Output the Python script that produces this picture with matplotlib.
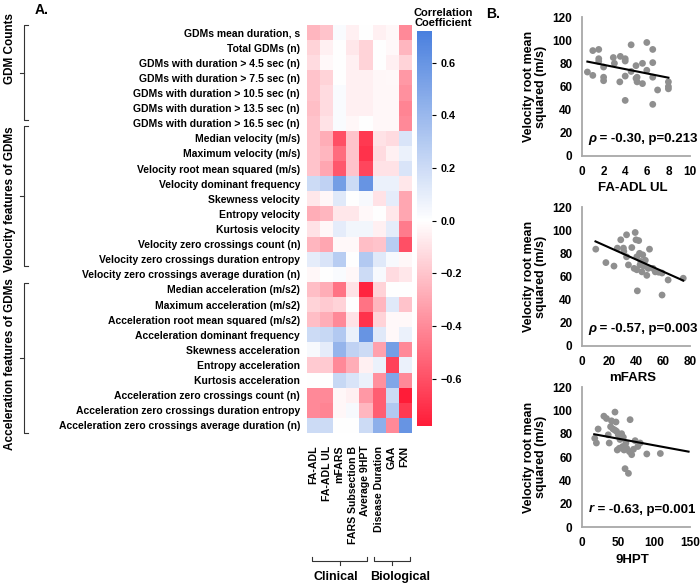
import numpy as np
import matplotlib
matplotlib.use('Agg')
import matplotlib.pyplot as plt
from matplotlib.colors import LinearSegmentedColormap, Normalize

plt.rcParams['font.family'] = ['Liberation Sans', 'DejaVu Sans']
plt.rcParams['font.weight'] = 'bold'

# ---------------- data ----------------
columns = ["FA-ADL", "FA-ADL UL", "mFARS", "FARS Subsection B", "Average 9HPT",
           "Disease Duration", "GAA", "FXN"]

gdm_rows = ["GDMs mean duration, s", "Total GDMs (n)",
            "GDMs with duration > 4.5 sec (n)", "GDMs with duration > 7.5 sec (n)",
            "GDMs with duration > 10.5 sec (n)", "GDMs with duration > 13.5 sec (n)",
            "GDMs with duration > 16.5 sec (n)"]
gdm_r = [
    [-0.25, -0.20, 0.02, -0.05, 0.00, -0.05, -0.03, -0.40],
    [-0.15, -0.05, 0.00, -0.08, -0.15, 0.00, -0.02, -0.25],
    [-0.12, -0.02, 0.00, -0.05, -0.15, 0.00, -0.05, -0.15],
    [-0.20, -0.15, 0.00, -0.05, -0.05, -0.03, -0.02, -0.35],
    [-0.20, -0.12, 0.02, -0.05, -0.05, -0.03, -0.03, -0.38],
    [-0.22, -0.12, 0.02, -0.05, -0.05, -0.03, -0.03, -0.42],
    [-0.20, -0.10, 0.02, -0.03, 0.00, -0.03, -0.03, -0.40],
]

vel_rows = ["Median velocity (m/s)", "Maximum velocity (m/s)",
            "Velocity root mean squared (m/s)", "Velocity dominant frequency",
            "Skewness velocity", "Entropy velocity", "Kurtosis velocity",
            "Velocity zero crossings count (n)",
            "Velocity zero crossings duration entropy",
            "Velocity zero crossings average duration (n)"]
vel_r = [
    [-0.20, -0.28, -0.60, -0.20, -0.68, -0.10, -0.12, 0.15],
    [-0.20, -0.25, -0.50, -0.20, -0.70, -0.12, -0.05, 0.08],
    [-0.20, -0.30, -0.57, -0.20, -0.63, -0.10, -0.10, 0.15],
    [0.20, 0.25, 0.55, 0.20, 0.60, 0.08, 0.08, -0.08],
    [-0.08, -0.03, 0.12, 0.00, 0.03, -0.10, 0.10, -0.30],
    [-0.28, -0.25, -0.08, -0.08, -0.02, 0.00, -0.08, -0.30],
    [-0.10, -0.03, 0.10, 0.05, 0.05, -0.05, 0.10, -0.45],
    [-0.25, -0.30, -0.02, -0.02, -0.22, -0.20, 0.28, -0.60],
    [0.10, 0.15, 0.28, 0.00, 0.30, 0.12, 0.03, -0.03],
    [-0.03, 0.00, 0.02, -0.03, 0.20, 0.03, -0.12, -0.08],
]

acc_rows = ["Median acceleration (m/s2)", "Maximum acceleration (m/s2)",
            "Acceleration root mean squared (m/s2)", "Acceleration dominant frequency",
            "Skewness acceleration", "Entropy acceleration", "Kurtosis acceleration",
            "Acceleration zero crossings count (n)",
            "Acceleration zero crossings duration entropy",
            "Acceleration zero crossings average duration (n)"]
acc_r = [
    [-0.22, -0.28, -0.48, -0.10, -0.75, -0.15, 0.00, 0.00],
    [-0.15, -0.18, -0.15, 0.00, -0.48, -0.25, 0.12, -0.20],
    [-0.22, -0.28, -0.40, -0.10, -0.70, -0.15, -0.02, -0.02],
    [0.20, 0.22, 0.30, 0.08, 0.60, 0.12, -0.02, 0.08],
    [0.03, 0.10, 0.42, 0.25, 0.20, -0.32, 0.55, -0.40],
    [-0.18, -0.18, -0.40, -0.28, -0.05, 0.08, -0.65, 0.08],
    [0.00, 0.00, 0.22, 0.15, 0.08, -0.38, 0.50, -0.40],
    [-0.40, -0.40, -0.03, -0.05, -0.35, -0.55, 0.20, -0.78],
    [-0.40, -0.42, -0.03, 0.03, -0.25, -0.55, 0.30, -0.68],
    [0.20, 0.20, 0.00, 0.00, 0.20, 0.45, -0.40, 0.60],
]

group_names = ["GDM Counts", "Velocity features of GDMs", "Acceleration features of GDMs"]
col_groups = ["Clinical", "Biological"]

cbar_ticks = [-0.6, -0.4, -0.2, 0.0, 0.2, 0.4, 0.6]
vmin, vmax = -0.78, 0.72

# scatter panels (points and trend-line end points)
p1_x = [0.5, 1.0, 1.0, 1.55, 1.55, 1.55, 2.0, 2.0, 2.0, 2.9, 3.0, 3.55, 3.5, 4.0, 4.0,
        4.0, 4.0, 4.55, 4.55, 5.0, 5.0, 5.1, 5.6, 5.6, 6.0, 6.0, 6.55, 6.55, 6.55, 6.55,
        7.0, 8.0, 8.0, 8.0, 5.1]
p1_y = [72.5, 69.6, 91, 92, 84, 81.7, 76.8, 68, 65, 85, 80, 86, 64, 84, 82,
        69, 48, 96, 73, 78, 67, 64, 80, 62.5, 98, 74, 92, 80.6, 68, 44.6,
        57, 64, 60, 58, 68]
p1_fit_x = [0.5, 8.0]
p1_fit_y = [81.5, 67.6]
p1_label = ("ρ", " = -0.30, p=0.213")

p2_x = [10.2, 17.7, 23.7, 26.2, 28.7, 30.7, 31, 33, 33, 34.4, 36.9, 38.6, 39.4, 40, 42,
        41, 40.6, 40.6, 42.6, 43.6, 44.4, 45, 45.6, 46.9, 48, 49, 50, 52.6, 54.3, 56.8,
        59.3, 59.3, 63.8, 75, 43]
p2_y = [83.6, 72, 69, 84.5, 91.7, 84.5, 81.6, 96, 77, 70, 85, 67, 98, 91.7, 91,
        47.6, 77, 65.8, 80, 73, 64, 78.7, 69, 74, 61, 67, 83.6, 67, 64, 63.7,
        63, 44, 57, 58.5, 70]
p2_fit_x = [10.0, 75.0]
p2_fit_y = [90.3, 56.5]
p2_label = ("ρ", " = -0.57, p=0.003")

p3_x = [17.7, 20, 22.4, 30.4, 34, 36.4, 37.8, 39.7, 41, 43, 45.8, 45.8, 47.2, 48, 49,
        50.4, 51.8, 52.8, 55, 56.5, 57.4, 58.4, 59.8, 61, 62, 64.5, 65.8, 66.8, 69, 71.5,
        73.8, 77.5, 80.8, 90, 108.8]
p3_y = [76, 72, 84, 95, 93, 79, 72, 86, 91, 84, 98.5, 83, 90, 82, 66,
        79, 67.5, 75, 80, 69, 77, 66, 50, 72, 67.5, 46, 64.6, 92, 62, 66.6,
        74, 69, 72, 62.6, 63]
p3_fit_x = [17.0, 148.0]
p3_fit_y = [79.5, 64.6]
p3_label = ("r", " = -0.63, p=0.001")

panels = [
    (p1_x, p1_y, p1_fit_x, p1_fit_y, p1_label, "FA-ADL UL", (0, 10), [0, 2, 4, 6, 8, 10]),
    (p2_x, p2_y, p2_fit_x, p2_fit_y, p2_label, "mFARS", (0, 80), [0, 20, 40, 60, 80]),
    (p3_x, p3_y, p3_fit_x, p3_fit_y, p3_label, "9HPT", (0, 150), [0, 50, 100, 150]),
]
y_ticks = [0, 20, 40, 60, 80, 100, 120]
y_label = "Velocity root mean\nsquared (m/s)"

# ---------------- figure ----------------
W, H = 700, 584
fig = plt.figure(figsize=(W / 100, H / 100), dpi=100)


def rect(x0, y0, x1, y1):
    return [x0 / W, 1 - y1 / H, (x1 - x0) / W, (y1 - y0) / H]


# colormap: red -> white (at 0) -> blue, truncated to data range
red = np.array([1.0, 0.11, 0.22])
white = np.array([1.0, 1.0, 1.0])
blue = np.array([0.23, 0.46, 0.86])
blue_top = white + (vmax / -vmin) * (blue - white)
zero_pos = -vmin / (vmax - vmin)
cmap = LinearSegmentedColormap.from_list(
    "rwb", [(0.0, red), (zero_pos, white), (1.0, blue_top)])
norm = Normalize(vmin=vmin, vmax=vmax)

rows = gdm_rows + vel_rows + acc_rows
M = np.array(gdm_r + vel_r + acc_r)

ax = fig.add_axes(rect(307, 25, 411, 433))
im = ax.imshow(M, cmap=cmap, norm=norm, aspect='auto', interpolation='nearest')
for s in ax.spines.values():
    s.set_visible(False)
ax.set_yticks(range(len(rows)))
ax.set_yticklabels(rows, fontsize=7.5, fontweight='bold')
ax.set_xticks(range(len(columns)))
ax.set_xticklabels(columns, rotation=90, fontsize=7.6, fontweight='bold')
ax.tick_params(axis='both', length=0)
ax.tick_params(axis='y', pad=5)
ax.tick_params(axis='x', pad=9)

cax = fig.add_axes(rect(417, 31, 432, 426))
cb = fig.colorbar(im, cax=cax)
cb.outline.set_visible(False)
cb.set_ticks(cbar_ticks)
cb.ax.tick_params(labelsize=7.8, length=3, width=0.8)
for t in cb.ax.get_yticklabels():
    t.set_fontweight('bold')

# overlay axes for annotations in pixel coords
ov = fig.add_axes([0, 0, 1, 1])
ov.set_xlim(0, W)
ov.set_ylim(H, 0)
ov.axis('off')

ov.text(443, 18, "Correlation\nCoefficient", ha='center', va='center',
        fontsize=8, fontweight='bold', linespacing=1.0)
ov.text(35, 10, "A.", ha='left', va='center', fontsize=10, fontweight='bold')
ov.text(486, 14, "B.", ha='left', va='center', fontsize=10, fontweight='bold')

# left brackets (pixel layout)
bracket_spans = [(25, 120), (126, 266), (283, 433)]
text_y = [48, 199, 364]
for name, (y0, y1), ty in zip(group_names, bracket_spans, text_y):
    ym = (y0 + y1) / 2
    ov.plot([28, 24, 24, 28], [y0, y0, y1, y1], color='#333333', lw=0.8)
    ov.plot([24, 20], [ym, ym], color='#333333', lw=0.8)
    ov.text(10, ty, name, rotation=90, ha='center', va='center',
            fontsize=8.5, fontweight='bold')

# bottom brackets
col_w = (411 - 307) / len(columns)
bracket_cols = [(0, 4), (5, 7)]
label_x = [336, 400]
for name, (c0, c1), lx in zip(col_groups, bracket_cols, label_x):
    x0 = 307 + c0 * col_w + 5
    x1 = 307 + (c1 + 1) * col_w - 5
    if c0 > 0:
        x0 -= 3
        x1 += 4
    xm = (x0 + x1) / 2
    ov.plot([x0, x0, x1, x1], [557, 561, 561, 557], color='#333333', lw=0.8)
    ov.plot([xm, xm], [561, 565], color='#333333', lw=0.8)
    ov.text(lx, 577, name, ha='center', va='center', fontsize=9, fontweight='bold')

# scatter panels
boxes = [(582, 17, 690, 156), (582, 207, 690, 346), (582, 387, 690, 527)]
for (px, py, fx, fy, lab, xl, xlim, xt), b in zip(panels, boxes):
    a = fig.add_axes(rect(*b))
    a.scatter(px, py, s=24, color='#8f8f8f', edgecolors='none', zorder=3)
    a.plot(fx, fy, color='black', lw=1.5, zorder=4)
    a.set_xlim(*xlim)
    a.set_ylim(0, 120)
    a.set_xticks(xt)
    a.set_yticks(y_ticks)
    for side in ['top', 'right']:
        a.spines[side].set_visible(False)
    for side in ['left', 'bottom']:
        a.spines[side].set_color('#a8a8a8')
        a.spines[side].set_linewidth(1.3)
    a.tick_params(length=0, labelsize=8.5)
    a.tick_params(axis='y', pad=7)
    a.tick_params(axis='x', pad=7)
    for t in a.get_xticklabels() + a.get_yticklabels():
        t.set_fontweight('bold')
    a.set_ylabel(y_label, fontsize=9, fontweight='bold', linespacing=1.0)
    a.yaxis.set_label_coords(-0.32, 0.5)
    a.set_xlabel(xl, fontsize=9.5, fontweight='bold')
    a.xaxis.set_label_coords(0.47, -0.19)
    t1 = a.text(0.06, 15, lab[0], transform=a.get_yaxis_transform(),
                fontsize=9.5, fontweight='bold', style='italic', va='center', ha='left')
    a.annotate(lab[1], xy=(1, 0.5), xycoords=t1, va='center', ha='left',
               fontsize=9.5, fontweight='bold', annotation_clip=False)

fig.savefig("out.png", dpi=100)
